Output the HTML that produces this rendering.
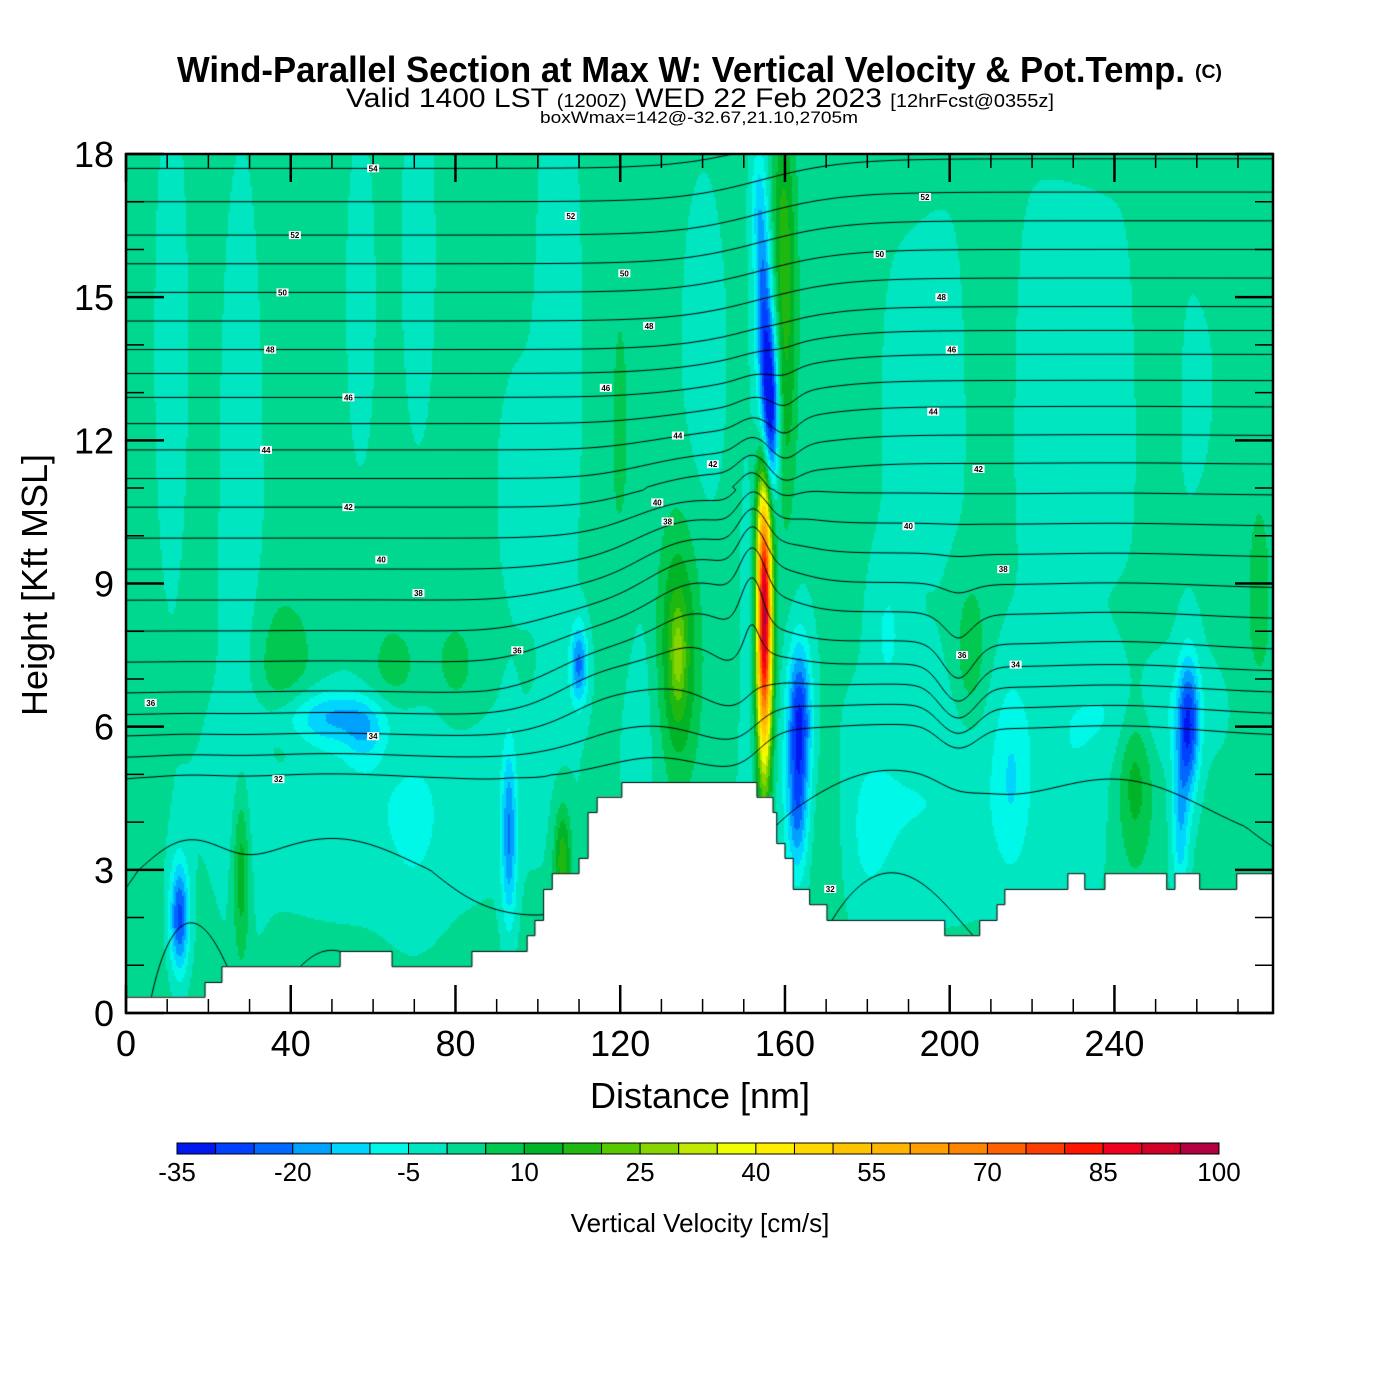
<!DOCTYPE html>
<html><head><meta charset="utf-8"><title>Wind-Parallel Section</title>
<style>
html,body{margin:0;padding:0;background:#fff;}
#wrap{position:relative;width:1400px;height:1400px;overflow:hidden;background:#fff;font-family:"Liberation Sans",sans-serif;}
#field{position:absolute;left:126px;top:154px;}
#ov{position:absolute;left:0;top:0;}
</style></head>
<body>
<div id="wrap">
<canvas id="field" width="1147" height="859"></canvas>
<svg id="ov" width="1400" height="1400" xmlns="http://www.w3.org/2000/svg">
<g font-family="Liberation Sans, sans-serif" fill="#000">
<text x="177" y="82" font-size="36" font-weight="bold" textLength="1008" lengthAdjust="spacingAndGlyphs">Wind-Parallel Section at Max W: Vertical Velocity &amp; Pot.Temp.</text>
<text x="1195" y="78" font-size="19" font-weight="bold" textLength="27" lengthAdjust="spacingAndGlyphs">(C)</text>
<text x="346" y="107" font-size="27" textLength="708" lengthAdjust="spacingAndGlyphs">Valid 1400 LST <tspan font-size="18">(1200Z)</tspan> WED 22 Feb 2023 <tspan font-size="18">[12hrFcst@0355z]</tspan></text>
<text x="540" y="123" font-size="17" textLength="318" lengthAdjust="spacingAndGlyphs">boxWmax=142@-32.67,21.10,2705m</text>
</g>
<g id="axes"></g>
<g id="clabels"></g>
<g id="cbar"></g>
<text x="700" y="1108" font-size="36" text-anchor="middle" font-family="Liberation Sans, sans-serif">Distance [nm]</text>
<text x="0" y="0" font-size="36" text-anchor="middle" font-family="Liberation Sans, sans-serif" transform="translate(47,585) rotate(-90)">Height [Kft MSL]</text>
<text x="700" y="1232" font-size="26" text-anchor="middle" font-family="Liberation Sans, sans-serif">Vertical Velocity [cm/s]</text>
</svg>
</div>
<script>
// ---- data ----
const cbColors=['#0018f0','#0040ff','#0068ff','#00a0ff','#00d4ff','#00f8e8','#00e6c0','#00d890','#00c850','#00b428','#20b810','#58c800','#88d400','#c0e800','#f0ff00','#ffee00','#ffd800','#ffc400','#ffb400','#ffa000','#ff8400','#ff6000','#ff3c00','#ff1400','#f00020','#d00028','#b00040'];
const cbMin=-35, cbStep=5;
const cbLabels=[-35,-20,-5,10,25,40,55,70,85,100];
const xTicks=[0,40,80,120,160,200,240];
const yTicks=[0,3,6,9,12,15,18];
const wBackground=2;
// vertical velocity features: [x nm, z kft, sx, sz, cm/s]
const wBlobs=[
[11,14,3,4,-5],[28,10,4,6,-5],[57,15,3,3,-4],[71,16,3,3,-5],[105,14,4,5,-5],[95,11,4,2,-4],
[220,13,50,5,-3],
[60,4.5,30,1.8,-6],[190,4.3,25,1.6,-6.5],[245,6.3,15,0.8,-6],[125,6.5,5,2,-4],
[70,3.5,5,1.5,-3],[180,3.3,4,1.2,-3],[230,4,5,1.5,-4],
[155,8.3,1.3,2.2,95],
[156.3,12.6,1.5,1.3,-45],[154.8,14.8,1.4,1.5,-22],[153.5,17,1.3,1,-10],
[160,14,2.2,2.5,15],[159.5,17,2,1.5,8],
[163.5,6.2,2,1.1,-30],[163,4.2,1.8,1,-18],
[151,8,1.2,2,-5],
[134,7.5,3.5,1.8,18],[134,7.5,1.2,0.7,10],
[110,7.3,1.5,0.6,-22],[106,3.2,1.5,0.8,18],[93,3.7,1.3,1.3,-20],
[13,2,1.6,0.8,-28],[28,3,1.5,1.3,15],
[50,6.2,10,0.4,-15],[58,5.8,3,0.4,-8],
[38,7,6,1.2,8],[65,7,5,0.9,7],[80,7.2,4,0.8,6],
[245,5,3,1.3,12],[205,7.6,2.5,1,9],[170,4,4,1.5,6],
[258,6,1.8,1,-28],[256,4,1.5,1.2,-15],
[215,5,3,1.5,-8],[185,8,3,1,-6],[275,9,4,3,5],[120,12,3,4,4],
[140,14,4,3,-3],[175,14,4,3,3],[210,14,4,4,3],[250,15,3,4,3]
];
// potential temperature reference profile
const thZ=[0,3,4.9,5.8,6.7,8.0,9.3,10.6,11.8,12.9,13.9,15.1,16.3,17.7,19.5];
const thV=[30.6,31.2,32,34,36,38,40,42,44,46,48,50,52,54,57];
// isentrope displacement features: [x, z, sx, sz, kft]
const dBlobs=[[140,8.8,13,1.6,1.6],[152,9.8,3,1.4,1.2],[202,6.8,4,1.2,-0.8],[115,7.2,12,1.2,0.7],[160,12,3,1,-0.3]];
// boundary-layer theta anomalies: [x, z, sx, sz, K]
const tBlobs=[[50,0.5,16,2.8,-0.9],[185,1,18,4.2,-1.1],[15,0,8,2.5,-1.2],[130,4,10,2.5,-0.6],[240,2,20,4,-0.8]];
const thLevels=[29,30,31,32,33,34,35,36,37,38,39,40,41,42,43,44,45,46,47,48,49,50,51,52,53,54,55,56];
// contour labels: [x nm, z kft, text]
const cLabels=[[60,17.7,'54'],[108,16.7,'52'],[41,16.3,'52'],[194,17.1,'52'],[38,15.1,'50'],[121,15.5,'50'],[183,15.9,'50'],[127,14.4,'48'],[198,15.0,'48'],[35,13.9,'48'],[200.5,13.9,'46'],[54,12.9,'46'],[116.5,13.1,'46'],[196,12.6,'44'],[134,12.1,'44'],[34,11.8,'44'],[142.5,11.5,'42'],[207,11.4,'42'],[54,10.6,'42'],[129,10.7,'40'],[190,10.2,'40'],[62,9.5,'40'],[131.5,10.3,'38'],[213,9.3,'38'],[71,8.8,'38'],[95,7.6,'36'],[203,7.5,'36'],[216,7.3,'34'],[6,6.5,'36'],[60,5.8,'34'],[37,4.9,'32'],[171,2.6,'32']];
// terrain steps: [x0, x1, kft]
const terrain=[[0,19.2,0.34],[19.2,23.3,0.65],[23.3,52,0.98],[52,64.6,1.3],[64.6,84,0.98],[84,97.4,1.3],[97.4,99.3,1.63],[99.3,101.4,1.95],[101.4,103.5,2.6],[103.5,110,2.93],[110,112.2,3.25],[112.2,114.4,4.21],[114.4,120.4,4.53],[120.4,153.2,4.84],[153.2,155.1,4.53],[155.1,157.1,4.53],[157.1,158,4.21],[158,160,3.56],[160,162,3.25],[162,166,2.6],[166,170.2,2.28],[170.2,198.8,1.95],[198.8,207.3,1.63],[207.3,211.5,1.95],[211.5,213.4,2.28],[213.4,228.7,2.6],[228.7,232.8,2.93],[232.8,237.7,2.6],[237.7,252.7,2.93],[252.7,254.7,2.6],[254.7,260.7,2.93],[260.7,269.7,2.6],[269.7,278.5,2.93]];

// ---- scales ----
const PX0=126,PY0=154,PW=1147,PH=859,XMAX=278.5,ZMAX=18;
const sx=x=>PX0+x/XMAX*PW, sy=z=>PY0+PH-z/ZMAX*PH;
const NS='http://www.w3.org/2000/svg';
function mk(tag,attrs,parent){const e=document.createElementNS(NS,tag);for(const k in attrs)e.setAttribute(k,attrs[k]);parent.appendChild(e);return e;}
function g(x,z,b){const dx=(x-b[0])/b[2],dz=(z-b[1])/b[3];return b[4]*Math.exp(-0.5*(dx*dx+dz*dz));}
function W(x,z){let v=wBackground;for(const b of wBlobs)v+=g(x,z,b);return v;}
function th0(z){if(z<=thZ[0])return thV[0]+(z-thZ[0])*0.2;for(let i=1;i<thZ.length;i++){if(z<=thZ[i]){const t=(z-thZ[i-1])/(thZ[i]-thZ[i-1]);return thV[i-1]+t*(thV[i]-thV[i-1]);}}const n=thZ.length-1;return thV[n]+(z-thZ[n])*1.7;}
function TH(x,z){const w=z>11?10:3;let d=0.9/(1+Math.exp(-(x-154)/w));for(const b of dBlobs)d+=g(x,z,b);let t=th0(z-d);for(const b of tBlobs)t+=g(x,z,b);return t;}
function hexRgb(h){return [parseInt(h.substr(1,2),16),parseInt(h.substr(3,2),16),parseInt(h.substr(5,2),16)];}

// ---- field ----
const cv=document.getElementById('field');const ctx=cv.getContext('2d');
const R=2,GW=Math.ceil(PW/R),GH=Math.ceil(PH/R);
const off=document.createElement('canvas');off.width=GW;off.height=GH;
const octx=off.getContext('2d');const img=octx.createImageData(GW,GH);
const rgbs=cbColors.map(hexRgb);
for(let j=0;j<GH;j++){const z=ZMAX-(j*R+R/2)/PH*ZMAX;for(let i=0;i<GW;i++){const x=(i*R+R/2)/PW*XMAX;const v=W(x,z);let k=Math.floor((v-cbMin)/cbStep);if(k<0)k=0;if(k>26)k=26;const c=rgbs[k];const p=(j*GW+i)*4;img.data[p]=c[0];img.data[p+1]=c[1];img.data[p+2]=c[2];img.data[p+3]=255;}}
octx.putImageData(img,0,0);
ctx.imageSmoothingEnabled=false;ctx.drawImage(off,0,0,GW*R,GH*R);

// ---- isentropes (marching squares) ----
const S=3,NX=Math.ceil(PW/S)+1,NZ=Math.ceil(PH/S)+1;
const grid=new Float32Array(NX*NZ);
for(let j=0;j<NZ;j++){const z=ZMAX-(j*S)/PH*ZMAX;for(let i=0;i<NX;i++){grid[j*NX+i]=TH((i*S)/PW*XMAX,z);}}
ctx.strokeStyle='#000';ctx.lineWidth=1;ctx.beginPath();
for(const L of thLevels){for(let j=0;j<NZ-1;j++){for(let i=0;i<NX-1;i++){
 const a=grid[j*NX+i],b=grid[j*NX+i+1],c=grid[(j+1)*NX+i+1],d=grid[(j+1)*NX+i];
 const pts=[];const x0=i*S,y0=j*S;
 if((a-L)*(b-L)<0)pts.push([x0+S*(L-a)/(b-a),y0]);
 if((b-L)*(c-L)<0)pts.push([x0+S,y0+S*(L-b)/(c-b)]);
 if((d-L)*(c-L)<0)pts.push([x0+S*(L-d)/(c-d),y0+S]);
 if((a-L)*(d-L)<0)pts.push([x0,y0+S*(L-a)/(d-a)]);
 if(pts.length>=2){ctx.moveTo(pts[0][0],pts[0][1]);ctx.lineTo(pts[1][0],pts[1][1]);}
 if(pts.length===4){ctx.moveTo(pts[2][0],pts[2][1]);ctx.lineTo(pts[3][0],pts[3][1]);}
}}}
ctx.stroke();

// ---- terrain ----
ctx.fillStyle='#fff';ctx.beginPath();ctx.moveTo(0,PH);
for(const t of terrain){ctx.lineTo(sx(t[0])-PX0,sy(t[2])-PY0);ctx.lineTo(sx(t[1])-PX0,sy(t[2])-PY0);}
ctx.lineTo(PW,PH);ctx.closePath();ctx.fill();
ctx.beginPath();let first=true;
for(const t of terrain){const yy=sy(t[2])-PY0+0.5;if(first){ctx.moveTo(sx(t[0])-PX0,yy);first=false;}else ctx.lineTo(sx(t[0])-PX0,yy);ctx.lineTo(sx(t[1])-PX0,yy);}
ctx.stroke();

// ---- contour labels ----
const cl=document.getElementById('clabels');
for(const l of cLabels){
 const gg=mk('g',{},cl);
 
 
 mk('rect',{x:sx(l[0])-6,y:sy(l[1])-4,width:12,height:8,fill:'#fff'},gg);
 mk('text',{x:sx(l[0]),y:sy(l[1])+3,'font-size':8,'text-anchor':'middle','font-family':'Liberation Sans, sans-serif','font-weight':'bold'},gg).textContent=l[2];
}

// ---- axes ----
const ax=document.getElementById('axes');
for(let x=0;x<=270;x+=10){const major=xTicks.indexOf(x)>=0;const len=major?28:14;
 const t1=mk('line',{x1:sx(x),x2:sx(x),y1:PY0+PH,y2:PY0+PH-len,stroke:'#000','stroke-width':major?2.5:1.5},ax);
 
 const t2=mk('line',{x1:sx(x),x2:sx(x),y1:PY0,y2:PY0+len,stroke:'#000','stroke-width':major?2.5:1.5},ax);
 }
for(const x of xTicks){const t=mk('text',{x:sx(x),y:1056,'font-size':36,'text-anchor':'middle','font-family':'Liberation Sans, sans-serif'},ax);t.textContent=x;
 }
for(let z=0;z<=18;z+=1){const major=yTicks.indexOf(z)>=0;const len=major?38:18;
 const t1=mk('line',{x1:PX0,x2:PX0+len,y1:sy(z),y2:sy(z),stroke:'#000','stroke-width':major?2.5:1.5},ax);
 
 const t2=mk('line',{x1:PX0+PW,x2:PX0+PW-len,y1:sy(z),y2:sy(z),stroke:'#000','stroke-width':major?2.5:1.5},ax);
 }
for(const z of yTicks){const t=mk('text',{x:114,y:sy(z)+13,'font-size':36,'text-anchor':'end','font-family':'Liberation Sans, sans-serif'},ax);t.textContent=z;
 }
const fr=mk('rect',{x:PX0,y:PY0,width:PW,height:PH,fill:'none',stroke:'#000','stroke-width':2.5},ax);


// ---- colorbar ----
const cb=document.getElementById('cbar');const CBX=177,CBW=1042,CBY=1143,CBH=11;const bw=CBW/cbColors.length;
cbColors.forEach((c,i)=>{const r=mk('rect',{x:CBX+i*bw,y:CBY,width:bw,height:CBH,fill:c,stroke:'#000','stroke-width':1},cb);
 });
for(const v of cbLabels){const t=mk('text',{x:CBX+(v-cbMin)/cbStep*bw,y:1181,'font-size':26,'text-anchor':'middle','font-family':'Liberation Sans, sans-serif'},cb);t.textContent=v;
 }
</script>
</body></html>
